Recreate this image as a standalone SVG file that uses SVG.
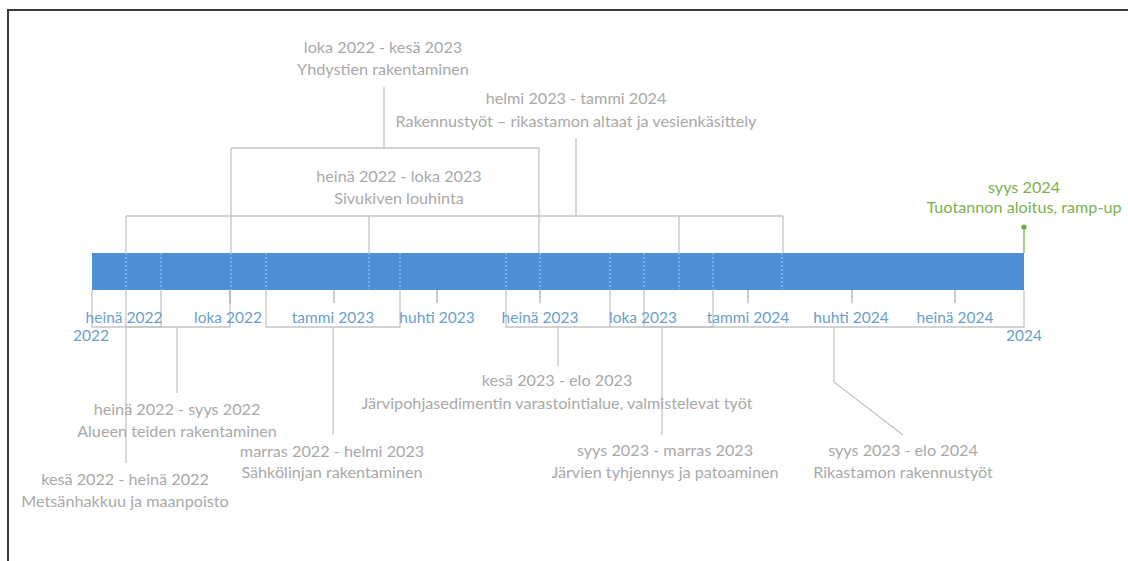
<svg xmlns="http://www.w3.org/2000/svg" width="1128" height="561" viewBox="0 0 1128 561">
<style>
.lbl{font-family:Lato,"Liberation Sans",sans-serif;font-size:16.2px;fill:#a9a9a9;text-anchor:middle}
.ax{font-family:Lato,"Liberation Sans",sans-serif;font-size:15.5px;fill:#6a9fcc;text-anchor:middle}
.grn{font-family:Lato,"Liberation Sans",sans-serif;font-size:16.2px;fill:#7cb24e;text-anchor:middle}
.con{stroke:#c4c4c4;stroke-width:1.3;fill:none}
.tick{stroke:#a8a8a8;stroke-width:1.2;fill:none}
.dash{stroke:#ffffff;stroke-opacity:0.55;stroke-width:1;stroke-dasharray:2 2;fill:none}
</style>
<rect x="0" y="0" width="1128" height="561" fill="#ffffff"/>
<path d="M8,561 V10 H1128" stroke="#3a3a3a" stroke-width="2" fill="none"/>

<g id="connectors">
  <!-- top brackets -->
  <path class="con" d="M384,87 V148 M231,148 H539 M231,148 V253 M539,148 V253"/>
  <path class="con" d="M576,138 V216 M126,216 H783 M126,216 V253 M369,216 V253 M679,216 V253 M783,216 V253"/>
  <!-- bottom brackets -->
  <path class="con" d="M92,290 V327 H161 V290 M126,290 V463"/>
  <path class="con" d="M126,327 H230 V290 M177,327 V393"/>
  <path class="con" d="M266,290 V327 H400 V290 M333,327 V435"/>
  <path class="con" d="M506,290 V327 H610 V290 M558,327 V366"/>
  <path class="con" d="M610,327 H713 V290 M662,327 V435"/>
  <path class="con" d="M644,290 V327 H1024 V290 M834,327 V382 L903,435"/>
  <!-- axis ticks -->
  <path class="tick" d="M230,290 V303 M334,290 V303 M437,290 V303 M540,290 V303 M748,290 V303 M852,290 V303 M955,290 V303"/>
  <!-- milestone -->
  <path d="M1024,227 V253" stroke="#7cb24e" stroke-width="1.3"/>
  <circle cx="1024" cy="227" r="2.6" fill="#6fa543"/>
</g>

<g id="bar">
  <rect x="92" y="253" width="932" height="37" fill="#4f8fd6"/>
  <path class="dash" d="M126,253 V290 M161,253 V290 M231,253 V290 M266,253 V290 M369,253 V290 M400,253 V290 M506,253 V290 M540,253 V290 M610,253 V290 M644,253 V290 M679,253 V290 M713,253 V290 M782,253 V290"/>
</g>

<g id="axis-labels">
  <text class="ax" x="124" y="323">heinä 2022</text>
  <text class="ax" x="91" y="341">2022</text>
  <text class="ax" x="228" y="323">loka 2022</text>
  <text class="ax" x="333" y="323">tammi 2023</text>
  <text class="ax" x="437" y="323">huhti 2023</text>
  <text class="ax" x="540" y="323">heinä 2023</text>
  <text class="ax" x="643" y="323">loka 2023</text>
  <text class="ax" x="748" y="323">tammi 2024</text>
  <text class="ax" x="851" y="323">huhti 2024</text>
  <text class="ax" x="955" y="323">heinä 2024</text>
  <text class="ax" x="1024" y="341">2024</text>
</g>

<g id="n-yhdystiet">
  <text class="lbl" x="383" y="53">loka 2022 - kesä 2023</text>
  <text class="lbl" x="383" y="75">Yhdystien rakentaminen</text>
</g>
<g id="n-rakennustyot">
  <text class="lbl" x="576" y="104">helmi 2023 - tammi 2024</text>
  <text class="lbl" x="576" y="127">Rakennustyöt – rikastamon altaat ja vesienkäsittely</text>
</g>
<g id="n-sivukivi">
  <text class="lbl" x="399" y="182">heinä 2022 - loka 2023</text>
  <text class="lbl" x="399" y="204">Sivukiven louhinta</text>
</g>
<g id="n-tuotanto">
  <text class="grn" x="1024" y="193">syys 2024</text>
  <text class="grn" x="1024" y="213">Tuotannon aloitus, ramp-up</text>
</g>
<g id="n-teiden">
  <text class="lbl" x="177" y="415">heinä 2022 - syys 2022</text>
  <text class="lbl" x="177" y="437">Alueen teiden rakentaminen</text>
</g>
<g id="n-metsa">
  <text class="lbl" x="125" y="485">kesä 2022 - heinä 2022</text>
  <text class="lbl" x="125" y="507">Metsänhakkuu ja maanpoisto</text>
</g>
<g id="n-sahko">
  <text class="lbl" x="332" y="457">marras 2022 - helmi 2023</text>
  <text class="lbl" x="332" y="478">Sähkölinjan rakentaminen</text>
</g>
<g id="n-jarvipohja">
  <text class="lbl" x="557" y="386">kesä 2023 - elo 2023</text>
  <text class="lbl" x="557" y="409">Järvipohjasedimentin varastointialue, valmistelevat työt</text>
</g>
<g id="n-jarvien">
  <text class="lbl" x="665" y="456">syys 2023 - marras 2023</text>
  <text class="lbl" x="665" y="478">Järvien tyhjennys ja patoaminen</text>
</g>
<g id="n-rikastamo">
  <text class="lbl" x="903" y="456">syys 2023 - elo 2024</text>
  <text class="lbl" x="903" y="478">Rikastamon rakennustyöt</text>
</g>
</svg>
